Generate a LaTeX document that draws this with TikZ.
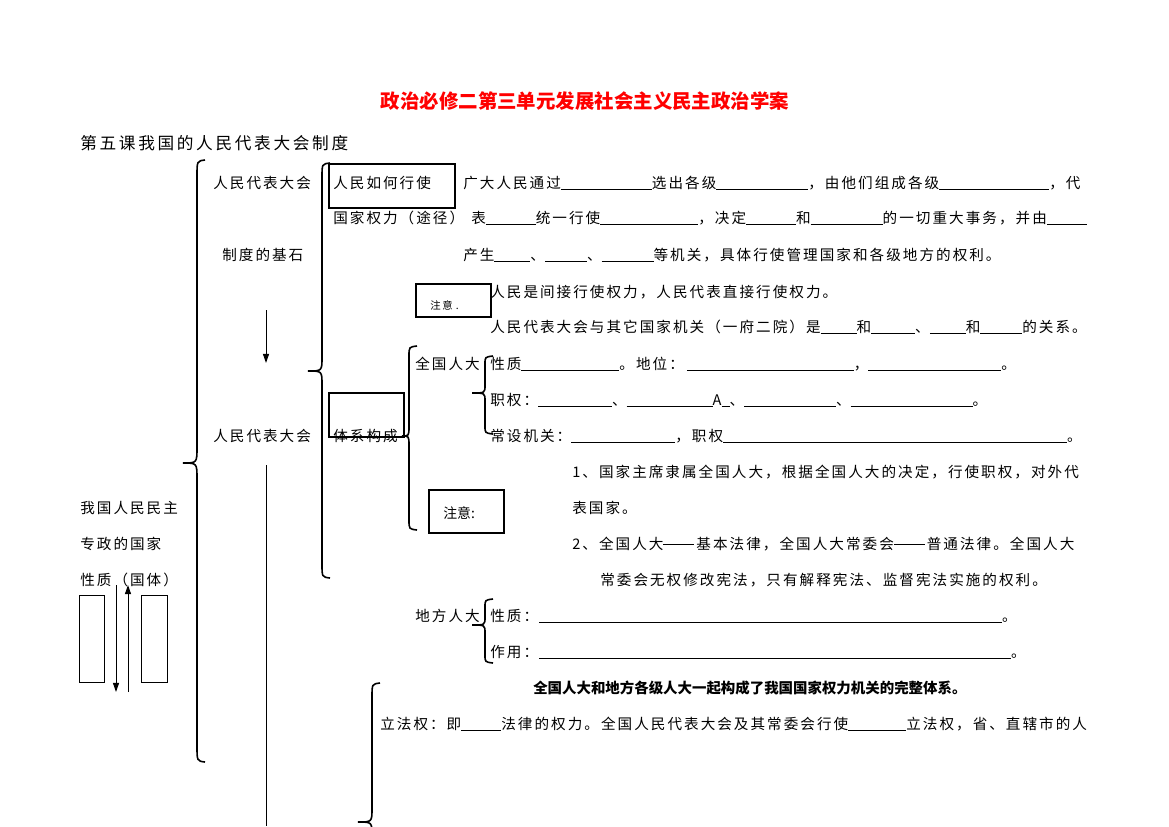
\documentclass[tikz,border=0pt]{standalone}
\usepackage{fontspec}
\usetikzlibrary{arrows.meta}
\setmainfont{Noto Sans CJK SC}
\newfontfamily\cjk{Noto Sans CJK SC}
\newfontfamily\cjksp[LetterSpace=14]{Noto Sans CJK SC}
\newfontfamily\cjkspb[LetterSpace=16]{Noto Sans CJK SC}
\newfontfamily\cjksmall[LetterSpace=30]{Noto Sans CJK SC}
\newlength\px \setlength\px{0.72028pt}
\newcommand\bodyf{\cjksp\fontsize{10.5}{12}\selectfont}
\newcommand\bl[1]{\rule[-1\px]{#1\px}{0.9\px}}
\newcommand\ddash{\raisebox{5\px}{\rule{31\px}{0.9\px}}\hspace{2\px}}
\newcommand\curly[7]{\draw[brace] (#6,#2) .. controls (#1,{#2+1}) .. (#1,{#2+#7}) -- (#1,{#3-#7}) .. controls (#1,#3) .. (#5,#3) .. controls (#1,#3) .. (#1,{#3+#7}) -- (#1,{#4-#7}) .. controls (#1,{#4-1}) .. (#6,#4);}
\begin{document}
\begin{tikzpicture}[x=0.72028pt,y=-0.72028pt,
  txt/.style={anchor=base west, inner sep=0pt, font=\bodyf},
  box/.style={line width=2\px},
  thinbox/.style={line width=1\px},
  brace/.style={line width=1.6\px},
  arr/.style={line width=1\px, -{Triangle[length=6.5pt,width=4.3pt]}}]
\useasboundingbox (0,0) rectangle (1169,826);

% title and subtitle
\node[anchor=base, inner sep=0pt, font=\cjk\fontsize{14}{16}\selectfont\bfseries, text=red] (title) at (585,108.4) {政治必修二第三单元发展社会主义民主政治学案};
\node[anchor=base west, inner sep=0pt, font=\cjkspb\fontsize{12}{14}\selectfont] (sub) at (80,149.3) {第五课我国的人民代表大会制度};

% left column
\node[txt] (basis1) at (213,188.5) {人民代表大会};
\node[txt] (basis2) at (222,260.5) {制度的基石};
\node[txt] (npc) at (213,441.5) {人民代表大会};
\node[txt] (nat1) at (80,513.5) {我国人民民主};
\node[txt] (nat2) at (80,549.5) {专政的国家};
\node[txt] (nat3) at (80,585.5) {性质（国体）};

% boxes
\draw[box] (329,164) rectangle (455,208);
\draw[box] (416,284) rectangle (491,317);
\draw[box] (429,490) rectangle (504,533);
\draw[thinbox] (79,595) rectangle (104,682);
\draw[thinbox] (141,595) rectangle (167,682);

% second column
\node[txt] (how1) at (333,188.5) {人民如何行使};
\node[txt] (how2) at (333,223.5) {国家权力（途径）};
\node[txt] (sys) at (333,441.5) {体系构成};
\draw[box] (329,393) rectangle (404,437);

% first block
\node[txt] (r1) at (463,188.5) {广大人民通过\bl{91}选出各级\bl{92}，由他们组成各级\bl{110}，代};
\node[txt] (r2) at (471,223.5) {表\bl{50}统一行使\bl{98}，决定\bl{50}和\bl{72}的一切重大事务，并由\bl{40}};
\node[txt] (r3) at (463,260.5) {产生\bl{36}、\bl{42}、\bl{52}等机关，具体行使管理国家和各级地方的权利。};
\node[anchor=base west, inner sep=0pt, font=\cjksmall\fontsize{7.5}{9}\selectfont] (note1) at (430,309.5) {注\,意.};
\node[txt] (r4) at (490,297.5) {人民是间接行使权力，人民代表直接行使权力。};
\node[txt] (r5) at (490,332.5) {人民代表大会与其它国家机关（一府二院）是\bl{36}和\bl{44}、\bl{36}和\bl{42}的关系。};

% national NPC
\node[txt] (qg) at (415,369.5) {全国人大};
\node[txt] (q1) at (490,369.5) {性质\bl{98}。地位：\hspace{3\px}\bl{167}，\bl{133}。};
\node[txt] (q2) at (490,405.5) {职权：\bl{74}、\bl{86}A\bl{8}、\bl{92}、\bl{122}。};
\node[txt] (q3) at (490,441.5) {常设机关：\bl{104}，职权\bl{344}。};
\node[anchor=base west, inner sep=0pt, font=\cjk\fontsize{10}{12}\selectfont] (note2) at (443,518.8) {注意:};
\node[txt] (n1) at (572,477.5) {1、国家主席隶属全国人大，根据全国人大的决定，行使职权，对外代};
\node[txt] (n2) at (572,513.5) {表国家。};
\node[txt] (n3) at (572,549.5) {2、全国人大\ddash 基本法律，全国人大常委会\ddash 普通法律。全国人大};
\node[txt] (n4) at (600,585.5) {常委会无权修改宪法，只有解释宪法、监督宪法实施的权利。};

% local
\node[txt] (df) at (415,621.5) {地方人大};
\node[txt] (d1) at (490,621.5) {性质：\hspace{1\px}\bl{463}。};
\node[txt] (d2) at (490,657.5) {作用：\hspace{1\px}\bl{472}。};

\node[anchor=base west, inner sep=0pt, font=\cjk\fontsize{10.4}{12}\selectfont\bfseries] (whole) at (533,693.5) {全国人大和地方各级人大一起构成了我国国家权力机关的完整体系。};
\node[txt] (leg) at (380,729.5) {立法权：即\bl{40}法律的权力。全国人民代表大会及其常委会行使\bl{58}立法权，省、直辖市的人};

% braces
\curly{197}{160}{463}{762}{183}{205}{16}
\curly{322}{163}{371}{578}{308}{330}{14}
\curly{409}{346}{436}{530}{402}{417}{10}
\curly{485}{356}{393}{434}{472}{493}{8}
\curly{485}{599}{625}{663}{472}{493}{8}
\curly{372}{683}{822}{961}{358}{380}{14}

% arrows and lines
\coordinate (a1s) at (266,310); \coordinate (a1e) at (266,363);
\draw[arr] (a1s) -- (a1e);
\coordinate (ls) at (266,465); \coordinate (le) at (266,826);
\draw[line width=1\px] (ls) -- (le);
\coordinate (a2s) at (116,585); \coordinate (a2e) at (116,692);
\draw[arr] (a2s) -- (a2e);
\coordinate (a3s) at (128,692); \coordinate (a3e) at (128,585);
\draw[arr] (a3s) -- (a3e);
\end{tikzpicture}
\end{document}
